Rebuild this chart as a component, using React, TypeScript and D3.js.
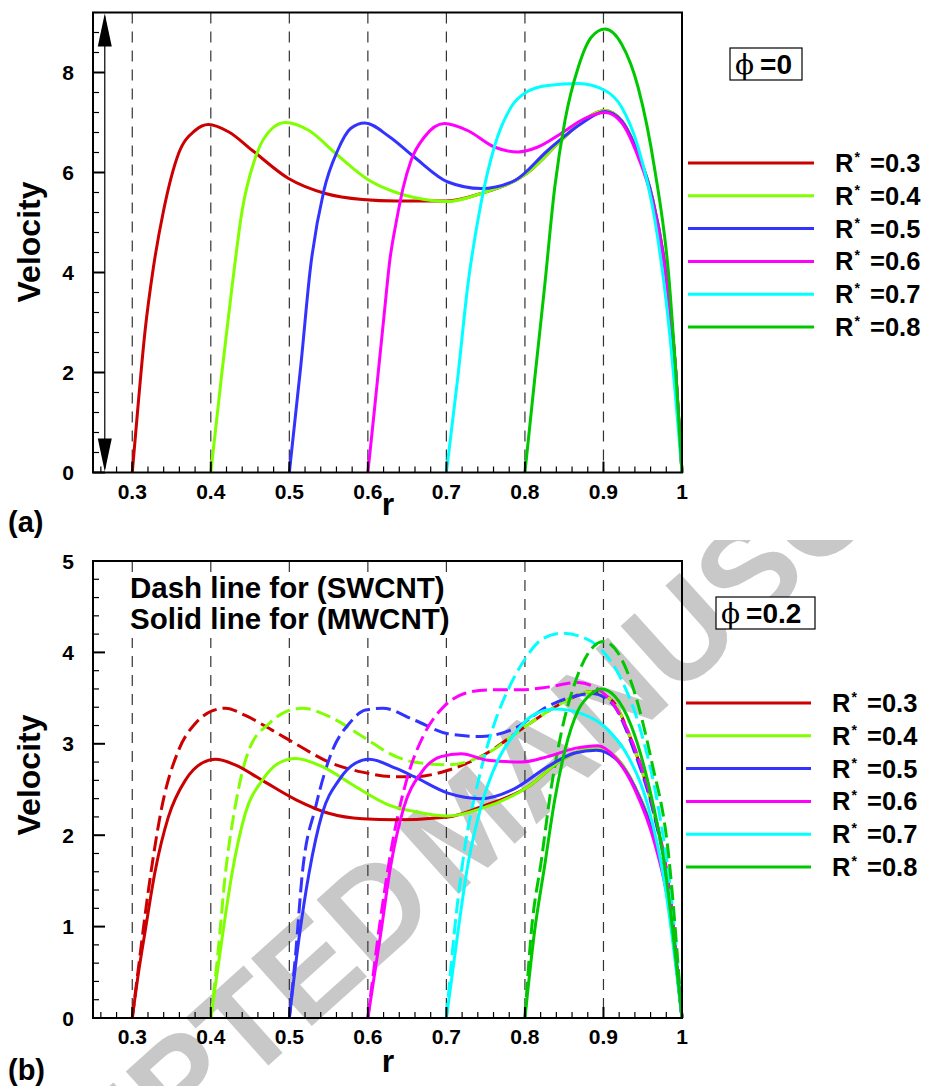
import React from 'react';
import * as d3 from 'd3';

// ---------- data ----------
const rTicks = [0.3, 0.4, 0.5, 0.6, 0.7, 0.8, 0.9, 1.0];
const rTickLabels = ['0.3', '0.4', '0.5', '0.6', '0.7', '0.8', '0.9', '1'];
const gridR = [0.3, 0.4, 0.5, 0.6, 0.7, 0.8, 0.9];
const aYTicks = [0, 2, 4, 6, 8];
const bYTicks = [0, 1, 2, 3, 4, 5];
const rStarLabels = ['0.3', '0.4', '0.5', '0.6', '0.7', '0.8'];
const seriesColors = ['#cc0000', '#80ff00', '#3333ff', '#ff00ff', '#00ffff', '#00c800'];

// panel (a), phi = 0
const aR03 = [[0.3,0],[0.308,1.45],[0.316,2.79],[0.327,4.11],[0.34,5.25],[0.359,6.38],[0.38,6.84],[0.397,6.96],[0.423,6.81],[0.453,6.44],[0.499,5.88],[0.546,5.58],[0.593,5.46],[0.636,5.43],[0.7,5.43],[0.744,5.58],[0.802,5.98],[0.846,6.64],[0.872,7.01],[0.902,7.24],[0.923,7.04],[0.944,6.38],[0.962,5.51],[0.979,4.05],[0.992,2.05],[1.0,0]];
const aR04 = [[0.4,0],[0.414,1.98],[0.427,3.71],[0.44,5.25],[0.457,6.31],[0.478,6.88],[0.495,7.0],[0.525,6.84],[0.559,6.38],[0.602,5.84],[0.636,5.6],[0.659,5.5],[0.702,5.42],[0.744,5.58],[0.802,5.98],[0.846,6.64],[0.872,7.01],[0.902,7.24],[0.923,7.04],[0.944,6.38],[0.962,5.51],[0.979,4.05],[0.992,2.05],[1.0,0]];
const aR05 = [[0.5,0],[0.5145,2.12],[0.527,4.11],[0.544,5.64],[0.5615,6.44],[0.578,6.88],[0.596,6.99],[0.627,6.72],[0.659,6.31],[0.702,5.81],[0.744,5.68],[0.787,5.84],[0.829,6.44],[0.872,6.98],[0.902,7.22],[0.923,7.03],[0.944,6.37],[0.962,5.5],[0.979,4.04],[0.992,2.04],[1.0,0]];
const aR06 = [[0.6,0],[0.608,1.2],[0.6145,2.2],[0.621,3.2],[0.628,4.25],[0.636,5.0],[0.645,5.7],[0.655,6.24],[0.672,6.71],[0.6975,6.98],[0.727,6.84],[0.761,6.51],[0.791,6.41],[0.8165,6.51],[0.846,6.78],[0.876,7.08],[0.902,7.2],[0.923,7.0],[0.944,6.32],[0.962,5.45],[0.979,4.0],[0.992,2.0],[1.0,0]];
const aR07 = [[0.7,0],[0.7145,1.9],[0.727,3.71],[0.744,5.38],[0.761,6.51],[0.7825,7.31],[0.802,7.61],[0.829,7.74],[0.868,7.78],[0.902,7.64],[0.923,7.31],[0.944,6.51],[0.9655,5.05],[0.9825,3.05],[1.0,0]];
const aR08 = [[0.8,0],[0.8123,1.85],[0.825,3.71],[0.838,5.71],[0.851,7.04],[0.868,8.11],[0.8847,8.71],[0.902,8.87],[0.923,8.57],[0.944,7.71],[0.9655,6.04],[0.9825,4.04],[1.0,0]];

// panel (b), phi = 0.2, solid = MWCNT
const bR03s = [[0.3,0],[0.308,0.5],[0.3164,0.95],[0.329,1.6],[0.346,2.2],[0.3675,2.6],[0.389,2.79],[0.406,2.83],[0.431,2.77],[0.4655,2.6],[0.508,2.39],[0.55,2.24],[0.593,2.18],[0.636,2.17],[0.702,2.2],[0.744,2.31],[0.804,2.53],[0.846,2.82],[0.872,2.93],[0.891,2.96],[0.915,2.86],[0.94,2.53],[0.9656,1.95],[0.9827,1.29],[1.0,0]];
const bR04s = [[0.4,0],[0.414,0.85],[0.427,1.58],[0.444,2.24],[0.4655,2.6],[0.4867,2.79],[0.508,2.84],[0.542,2.75],[0.5846,2.53],[0.627,2.33],[0.659,2.26],[0.702,2.21],[0.744,2.29],[0.804,2.53],[0.846,2.82],[0.872,2.93],[0.891,2.96],[0.915,2.86],[0.94,2.53],[0.9656,1.95],[0.9827,1.29],[1.0,0]];
const bR05s = [[0.5,0],[0.512,0.85],[0.525,1.58],[0.542,2.24],[0.563,2.6],[0.5846,2.79],[0.6016,2.83],[0.636,2.73],[0.659,2.64],[0.702,2.46],[0.744,2.4],[0.787,2.51],[0.829,2.75],[0.8634,2.9],[0.891,2.93],[0.915,2.84],[0.94,2.52],[0.9656,1.94],[0.9827,1.28],[1.0,0]];
const bR06s = [[0.6,0],[0.6165,0.93],[0.629,1.66],[0.646,2.31],[0.6676,2.68],[0.693,2.86],[0.7187,2.89],[0.7528,2.82],[0.7953,2.8],[0.829,2.86],[0.8634,2.95],[0.893,2.98],[0.915,2.85],[0.94,2.5],[0.9656,1.9],[0.9827,1.25],[1.0,0]];
const bR07s = [[0.7,0],[0.7145,0.93],[0.727,1.66],[0.744,2.31],[0.7656,2.82],[0.787,3.11],[0.808,3.3],[0.838,3.38],[0.872,3.33],[0.906,3.15],[0.9315,2.86],[0.957,2.31],[0.978,1.47],[1.0,0]];
const bR08s = [[0.8,0],[0.812,0.93],[0.825,1.66],[0.838,2.39],[0.851,2.93],[0.868,3.37],[0.885,3.55],[0.8975,3.6],[0.9145,3.52],[0.9357,3.19],[0.957,2.57],[0.978,1.66],[1.0,0]];

// panel (b), dashed = SWCNT
const bR03d = [[0.3,0],[0.3079,0.55],[0.3206,1.4],[0.3377,2.31],[0.359,2.93],[0.38,3.22],[0.4016,3.36],[0.4186,3.39],[0.444,3.31],[0.478,3.15],[0.508,3.0],[0.5505,2.8],[0.593,2.69],[0.636,2.64],[0.659,2.64],[0.702,2.71],[0.744,2.86],[0.804,3.21],[0.846,3.44],[0.8847,3.57],[0.91,3.48],[0.94,2.93],[0.9656,2.2],[0.9827,1.47],[1.0,0]];
const bR04d = [[0.4,0],[0.409,0.7],[0.4186,1.58],[0.431,2.31],[0.4484,2.93],[0.474,3.22],[0.495,3.35],[0.5165,3.39],[0.5505,3.3],[0.593,3.08],[0.636,2.86],[0.659,2.8],[0.702,2.77],[0.744,2.86],[0.804,3.21],[0.846,3.44],[0.8847,3.57],[0.91,3.48],[0.94,2.93],[0.9656,2.2],[0.9827,1.47],[1.0,0]];
const bR05d = [[0.5,0],[0.508,0.7],[0.5165,1.58],[0.5335,2.31],[0.555,2.93],[0.576,3.22],[0.597,3.37],[0.6187,3.39],[0.659,3.26],[0.702,3.11],[0.744,3.08],[0.787,3.17],[0.829,3.41],[0.8634,3.52],[0.8847,3.55],[0.91,3.45],[0.94,2.9],[0.9656,2.18],[0.9827,1.45],[1.0,0]];
const bR06d = [[0.6,0],[0.6165,1.11],[0.6335,2.02],[0.6506,2.64],[0.672,3.11],[0.697,3.41],[0.723,3.55],[0.7528,3.59],[0.795,3.59],[0.829,3.62],[0.8677,3.67],[0.889,3.62],[0.9145,3.41],[0.94,2.95],[0.9656,2.22],[0.9827,1.48],[1.0,0]];
const bR07d = [[0.7,0],[0.71,0.93],[0.723,1.84],[0.74,2.57],[0.761,3.22],[0.7784,3.59],[0.7995,3.92],[0.821,4.14],[0.8464,4.21],[0.872,4.17],[0.8975,4.03],[0.923,3.7],[0.9485,3.11],[0.9697,2.31],[0.9868,1.29],[1.0,0]];
const bR08d = [[0.8,0],[0.808,0.93],[0.821,1.73],[0.8337,2.53],[0.846,3.11],[0.8634,3.66],[0.8805,3.99],[0.8997,4.12],[0.9188,3.99],[0.94,3.55],[0.961,2.82],[0.9827,1.8],[1.0,0]];

const aSeries = [aR03, aR04, aR05, aR06, aR07, aR08];
const bSolid = [bR03s, bR04s, bR05s, bR06s, bR07s, bR08s];
const bDashed = [bR03d, bR04d, bR05d, bR06d, bR07d, bR08d];

const arrowR = 0.265;

// ---------- drawing ----------
const FONT = "'Liberation Sans', Arial, Helvetica, sans-serif";
const xDomain: [number, number] = [0.25, 1.0];
const xRange: [number, number] = [93, 682];

type PanelProps = {
  yMax: number;
  top: number;
  bottom: number;
  yTicks: number[];
  yMinorStep: number;
  solid: number[][][];
  dashed?: number[][][];
  phiText: string;
  phiBox: { x: number; y: number; w: number; h: number };
  legendY0: number;
  legendX: number[];
  tag: string;
  tagY: number;
  velY: number;
  rLabelY: number;
  arrow?: boolean;
  note?: boolean;
};

function Panel(p: PanelProps) {
  const x = d3.scaleLinear().domain(xDomain).range(xRange);
  const y = d3.scaleLinear().domain([0, p.yMax]).range([p.bottom, p.top]);
  const line = d3
    .line<number[]>()
    .x((d) => x(d[0]))
    .y((d) => y(d[1]))
    .curve(d3.curveMonotoneX);

  const xMinor = d3.range(0.26, 1.0001, 0.02).filter((v) => Math.abs(v * 10 - Math.round(v * 10)) > 1e-6);
  const yMinor = d3.range(0, p.yMax + 1e-6, p.yMinorStep).filter((v) => !p.yTicks.some((t) => Math.abs(t - v) < 1e-6));
  const L = xRange[0];
  const R = xRange[1];

  return (
    <g>
      {gridR.map((g) => (
        <line key={'g' + g} x1={x(g)} x2={x(g)} y1={p.top} y2={p.bottom} stroke="#333" strokeWidth={1.2} strokeDasharray="11,8" />
      ))}
      {p.note && <rect x={126} y={574} width={332} height={64} fill="#fff" />}
      {p.note && (
        <g fontFamily={FONT} fontWeight="bold" fontSize={29.5} fill="#000">
          <text x={130} y={598}>Dash line for (SWCNT)</text>
          <text x={130} y={629}>Solid line for (MWCNT)</text>
        </g>
      )}
      {p.arrow && (
        <g>
          <line x1={x(arrowR)} x2={x(arrowR)} y1={p.top + 4} y2={p.bottom - 4} stroke="#000" strokeWidth={1.2} />
          <polygon points={`${x(arrowR)},${p.top + 1} ${x(arrowR) - 7},${p.top + 34} ${x(arrowR) + 7},${p.top + 34}`} fill="#000" />
          <polygon points={`${x(arrowR)},${p.bottom - 1} ${x(arrowR) - 7},${p.bottom - 34} ${x(arrowR) + 7},${p.bottom - 34}`} fill="#000" />
        </g>
      )}
      {p.dashed &&
        p.dashed.map((s, i) => (
          <path key={'d' + i} d={line(s) || ''} fill="none" stroke={seriesColors[i]} strokeWidth={3} strokeDasharray="15,6" />
        ))}
      {p.solid.map((s, i) => (
        <path key={'s' + i} d={line(s) || ''} fill="none" stroke={seriesColors[i]} strokeWidth={3} />
      ))}
      <rect x={L} y={p.top} width={R - L} height={p.bottom - p.top} fill="none" stroke="#000" strokeWidth={2} />
      {rTicks.map((t) => (
        <line key={'xt' + t} x1={x(t)} x2={x(t)} y1={p.bottom} y2={p.bottom - 11} stroke="#000" strokeWidth={2} />
      ))}
      {xMinor.map((t) => (
        <line key={'xm' + t} x1={x(t)} x2={x(t)} y1={p.bottom} y2={p.bottom - 6} stroke="#000" strokeWidth={1.2} />
      ))}
      {p.yTicks.map((t) => (
        <line key={'yt' + t} x1={L} x2={L + 12} y1={y(t)} y2={y(t)} stroke="#000" strokeWidth={2} />
      ))}
      {yMinor.map((t) => (
        <line key={'ym' + t} x1={L} x2={L + 6} y1={y(t)} y2={y(t)} stroke="#000" strokeWidth={1.2} />
      ))}
      <g fontFamily={FONT} fontWeight="bold" fontSize={21} fill="#000">
        {rTicks.map((t, i) => (
          <text key={'xl' + t} x={x(t)} y={p.bottom + 26} textAnchor="middle">
            {rTickLabels[i]}
          </text>
        ))}
        {p.yTicks.map((t) => (
          <text key={'yl' + t} x={74} y={y(t)} dy="0.36em" textAnchor="end">
            {t}
          </text>
        ))}
      </g>
      <text x={388} y={p.rLabelY} fontFamily={FONT} fontWeight="bold" fontSize={32} textAnchor="middle">r</text>
      <text transform={`translate(40,${p.velY}) rotate(-90)`} fontFamily={FONT} fontWeight="bold" fontSize={32} textAnchor="middle">Velocity</text>
      <text x={8} y={p.tagY} fontFamily={FONT} fontWeight="bold" fontSize={29}>{p.tag}</text>
      <rect x={p.phiBox.x} y={p.phiBox.y} width={p.phiBox.w} height={p.phiBox.h} fill="#fff" stroke="#000" strokeWidth={1.2} />
      <text x={p.phiBox.x + 5} y={p.phiBox.y + 26} fontSize={28} fill="#000">
        <tspan fontFamily="'DejaVu Serif', serif">ϕ</tspan>
        <tspan fontFamily={FONT} fontWeight="bold" dx={6}>{p.phiText}</tspan>
      </text>
      {rStarLabels.map((lab, i) => {
        const ly = p.legendY0 + i * 32.8;
        return (
          <g key={'lg' + i}>
            <line x1={p.legendX[0]} x2={p.legendX[1]} y1={ly} y2={ly} stroke={seriesColors[i]} strokeWidth={3} />
            <text x={p.legendX[2]} y={ly + 9} fontFamily={FONT} fontWeight="bold" fontSize={25.5} fill="#000">
              R<tspan fontSize={14} dy={-10} dx={1}>*</tspan>
              <tspan x={p.legendX[2] + 35} dy={10}>={lab}</tspan>
            </text>
          </g>
        );
      })}
    </g>
  );
}

export default function App() {
  return (
    <svg width={928} height={1086} viewBox="0 0 928 1086" style={{ position: 'absolute', left: 0, top: 0, background: '#fff' }}>
      <defs>
        <clipPath id="wmClip">
          <rect x={0} y={540} width={928} height={546} />
        </clipPath>
      </defs>
      <rect width={928} height={1086} fill="#fff" />
      <g clipPath="url(#wmClip)">
        <g transform="translate(452,900) rotate(-42)" fontFamily={FONT} fontWeight="bold" fontSize={132} fill="#c8c8c8">
          <text x={-14} y={0} textAnchor="end">ACCEPTED</text>
          <text x={0} y={0} textAnchor="start">MANUSCRIPT</text>
        </g>
      </g>
      <Panel
        yMax={9.2}
        top={12.5}
        bottom={472.5}
        yTicks={aYTicks}
        yMinorStep={0.4}
        solid={aSeries}
        phiText="=0"
        phiBox={{ x: 730, y: 48, w: 72, h: 32 }}
        legendY0={163}
        legendX={[688, 814, 835]}
        tag="(a)"
        tagY={532}
        velY={242}
        rLabelY={515}
        arrow
      />
      <Panel
        yMax={5}
        top={561}
        bottom={1018}
        yTicks={bYTicks}
        yMinorStep={0.2}
        solid={bSolid}
        dashed={bDashed}
        phiText="=0.2"
        phiBox={{ x: 716, y: 597, w: 99, h: 32 }}
        legendY0={703}
        legendX={[686, 811, 832]}
        tag="(b)"
        tagY={1080}
        velY={775}
        rLabelY={1072}
        note
      />
    </svg>
  );
}
